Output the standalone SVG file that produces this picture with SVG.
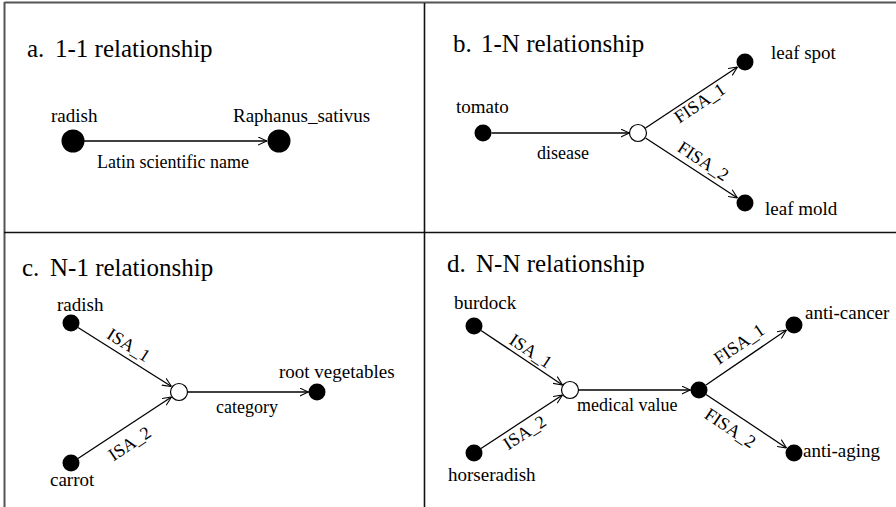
<svg xmlns="http://www.w3.org/2000/svg" width="896" height="507" viewBox="0 0 896 507">
<style>
  .title { font-size: 25px; font-family: "Liberation Serif", "Times New Roman", Tinos, "DejaVu Serif", serif; }
  .lbl { font-size: 19px; font-family: "Liberation Serif", "Times New Roman", Tinos, "DejaVu Serif", serif; }
  .elbl { font-size: 18px; font-family: "Liberation Serif", "Times New Roman", Tinos, "DejaVu Serif", serif; }
  .edge { stroke: #000; stroke-width: 1.3; fill: none; marker-end: url(#arr); }
  .fill { fill: #000; }
  .open { fill: #fff; stroke: #000; stroke-width: 1.2; }
  .frame { stroke: #555; stroke-width: 2; fill: none; }
  .div { stroke: #111; stroke-width: 1.6; fill: none; }
</style>
<defs>
  <marker id="arr" viewBox="0 0 10 10" refX="10" refY="5" markerWidth="9" markerHeight="9" markerUnits="userSpaceOnUse" orient="auto">
    <path d="M0,0.5 L10,5 L0,9.5" fill="none" stroke="#000" stroke-width="1.2"/>
  </marker>
</defs>
<rect width="896" height="507" fill="#fff"/>
<g id="frame">
  <line class="frame" x1="4.5" y1="2.5" x2="896" y2="2.5"/>
  <line class="frame" x1="4.5" y1="2" x2="4.5" y2="507"/>
  <line class="div" x1="4" y1="232.5" x2="896" y2="232.5"/>
  <line class="div" x1="424.5" y1="3" x2="424.5" y2="507"/>
</g>
<g id="titles" font-family="Liberation Serif, serif">
  <text class="title" x="27" y="57">a.</text><text class="title" x="55" y="57">1-1 relationship</text>
  <text class="title" x="453" y="52">b.</text><text class="title" x="481" y="52">1-N relationship</text>
  <text class="title" x="22" y="276">c.</text><text class="title" x="50" y="276">N-1 relationship</text>
  <text class="title" x="447" y="272">d.</text><text class="title" x="476" y="272">N-N relationship</text>
</g>
<g id="connectors">
  <line class="edge" x1="84" y1="141" x2="267" y2="141"/>
  <line class="edge" x1="491.5" y1="133" x2="629.5" y2="133"/>
  <line class="edge" x1="645.5" y1="128" x2="737.5" y2="67"/>
  <line class="edge" x1="645.5" y1="138" x2="737.5" y2="198"/>
  <line class="edge" x1="78" y1="327.5" x2="171.5" y2="386.5"/>
  <line class="edge" x1="78" y1="458.5" x2="171.5" y2="397"/>
  <line class="edge" x1="188" y1="392" x2="308.5" y2="392"/>
  <line class="edge" x1="481" y1="330.5" x2="562.5" y2="385"/>
  <line class="edge" x1="481" y1="448.5" x2="562.5" y2="395"/>
  <line class="edge" x1="579" y1="390" x2="690.5" y2="390"/>
  <line class="edge" x1="706" y1="385" x2="786.5" y2="330"/>
  <line class="edge" x1="706" y1="394.5" x2="786.5" y2="448"/>
  <text class="elbl" x="97" y="168">Latin scientific name</text>
  <text class="elbl" x="537" y="159">disease</text>
  <text class="elbl" text-anchor="middle" transform="translate(703,108) rotate(-33.6)">FISA_1</text>
  <text class="elbl" text-anchor="middle" transform="translate(700,166) rotate(33.2)">FISA_2</text>
  <text class="elbl" text-anchor="middle" transform="translate(125.5,350) rotate(32.2)">ISA_1</text>
  <text class="elbl" text-anchor="middle" transform="translate(133,448.5) rotate(-33.7)">ISA_2</text>
  <text class="elbl" x="216" y="413">category</text>
  <text class="elbl" text-anchor="middle" transform="translate(527.5,356) rotate(33.7)">ISA_1</text>
  <text class="elbl" text-anchor="middle" transform="translate(528,437.5) rotate(-33.3)">ISA_2</text>
  <text class="elbl" x="577" y="411">medical value</text>
  <text class="elbl" text-anchor="middle" transform="translate(742.5,349) rotate(-34.4)">FISA_1</text>
  <text class="elbl" text-anchor="middle" transform="translate(727,433) rotate(33.6)">FISA_2</text>
</g>
<g id="n-radish-a"><circle class="fill" cx="73" cy="141" r="11.5"/><text class="lbl" x="51" y="122">radish</text></g>
<g id="n-raphanus"><circle class="fill" cx="279" cy="141" r="11.5"/><text class="lbl" x="233" y="122">Raphanus_sativus</text></g>
<g id="n-tomato"><circle class="fill" cx="483" cy="133" r="8.5"/><text class="lbl" x="456" y="113">tomato</text></g>
<g id="n-disease"><circle class="open" cx="638" cy="133" r="8.5"/></g>
<g id="n-leafspot"><circle class="fill" cx="745" cy="62" r="8.5"/><text class="lbl" x="771" y="59">leaf spot</text></g>
<g id="n-leafmold"><circle class="fill" cx="745" cy="203" r="8.5"/><text class="lbl" x="765" y="215">leaf mold</text></g>
<g id="n-radish-c"><circle class="fill" cx="71" cy="323" r="8.5"/><text class="lbl" x="57" y="311">radish</text></g>
<g id="n-carrot"><circle class="fill" cx="71" cy="463" r="8.5"/><text class="lbl" x="50" y="486">carrot</text></g>
<g id="n-category"><circle class="open" cx="179" cy="392" r="8.5"/></g>
<g id="n-rootveg"><circle class="fill" cx="317" cy="392" r="8.5"/><text class="lbl" x="279" y="378">root vegetables</text></g>
<g id="n-burdock"><circle class="fill" cx="474" cy="326" r="8.5"/><text class="lbl" x="454" y="309">burdock</text></g>
<g id="n-horseradish"><circle class="fill" cx="474" cy="453" r="8.5"/><text class="lbl" x="448" y="481">horseradish</text></g>
<g id="n-medical"><circle class="open" cx="570" cy="390" r="8.5"/></g>
<g id="n-mid"><circle class="fill" cx="699" cy="390" r="8.5"/></g>
<g id="n-anticancer"><circle class="fill" cx="794" cy="325" r="8.5"/><text class="lbl" x="805" y="319">anti-cancer</text></g>
<g id="n-antiaging"><circle class="fill" cx="794" cy="453" r="8.5"/><text class="lbl" x="803" y="457">anti-aging</text></g>
</svg>
